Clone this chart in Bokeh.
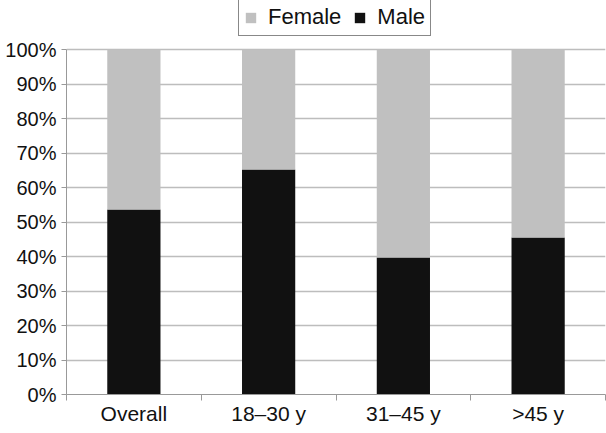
from bokeh.plotting import figure
from bokeh.models import (Range1d, FixedTicker, PrintfTickFormatter, Legend, LegendItem,
                          ColumnDataSource)
from bokeh.embed import file_html
from bokeh.resources import INLINE

categories = ["Overall", "18\u201330 y", "31\u201345 y", ">45 y"]
male = [53.6, 65.2, 39.7, 45.5]
female = [46.4, 34.8, 60.3, 54.5]
y_ticks = [0, 10, 20, 30, 40, 50, 60, 70, 80, 90, 100]

FONT = "Liberation Sans"
GRID = "#bdbdbd"

# frame spans the full height above the x axis; 100% sits 49px below the top
FRAME_H = 394
Y_TOP = 100 * FRAME_H / 345

xs = [i + 0.5 for i in range(len(categories))]
src = ColumnDataSource(dict(x=xs, male=male, female=female, cat=categories))

p = figure(width=606, height=433, output_backend="svg", toolbar_location=None,
           x_range=Range1d(0, len(categories)), y_range=Range1d(0, Y_TOP),
           min_border_left=66, min_border_right=1, min_border_top=0, min_border_bottom=39)
p.outline_line_color = None
p.background_fill_color = "white"

r = p.vbar_stack(["male", "female"], x="x", width=0.395, source=src,
                 color=["#111111", "#c0c0c0"], line_color=None)

# y axis
p.yaxis.ticker = FixedTicker(ticks=y_ticks)
p.yaxis.bounds = (0, 100)
p.yaxis.formatter = PrintfTickFormatter(format="%d%%")
p.yaxis.axis_line_color = "#999999"
p.yaxis.major_tick_line_color = "#999999"
p.yaxis.major_tick_in = 0
p.yaxis.major_tick_out = 5
p.yaxis.minor_tick_line_color = None
p.yaxis.major_label_standoff = 5
p.yaxis.major_label_text_font = FONT
p.yaxis.major_label_text_font_size = "20px"
p.yaxis.major_label_text_color = "#111111"

# x axis
p.xaxis.ticker = FixedTicker(ticks=xs, minor_ticks=list(range(len(categories) + 1)))
p.xaxis.major_label_overrides = {x: c for x, c in zip(xs, categories)}
p.xaxis.axis_line_color = "#999999"
p.xaxis.major_tick_line_color = None
p.xaxis.major_tick_in = 0
p.xaxis.major_tick_out = 0
p.xaxis.minor_tick_line_color = "#999999"
p.xaxis.minor_tick_in = 0
p.xaxis.minor_tick_out = 6
p.xaxis.major_label_standoff = 1
p.xaxis.major_label_text_font = FONT
p.xaxis.major_label_text_font_size = "21px"
p.xaxis.major_label_text_color = "#111111"

p.xgrid.grid_line_color = None
p.ygrid.grid_line_color = GRID
p.ygrid.grid_line_width = 1.5

legend = Legend(items=[LegendItem(label="Female", renderers=[r[1]]),
                       LegendItem(label="Male", renderers=[r[0]])],
                orientation="horizontal", location=(172, 358),
                border_line_color="#111111", border_line_width=1.5,
                label_text_font=FONT, label_text_font_size="22px",
                label_text_color="#111111",
                glyph_width=13, glyph_height=13, label_standoff=11,
                spacing=12, padding=5, margin=0, label_height=18)
p.add_layout(legend, "center")

open("out.html", "w").write(file_html(p, INLINE))
